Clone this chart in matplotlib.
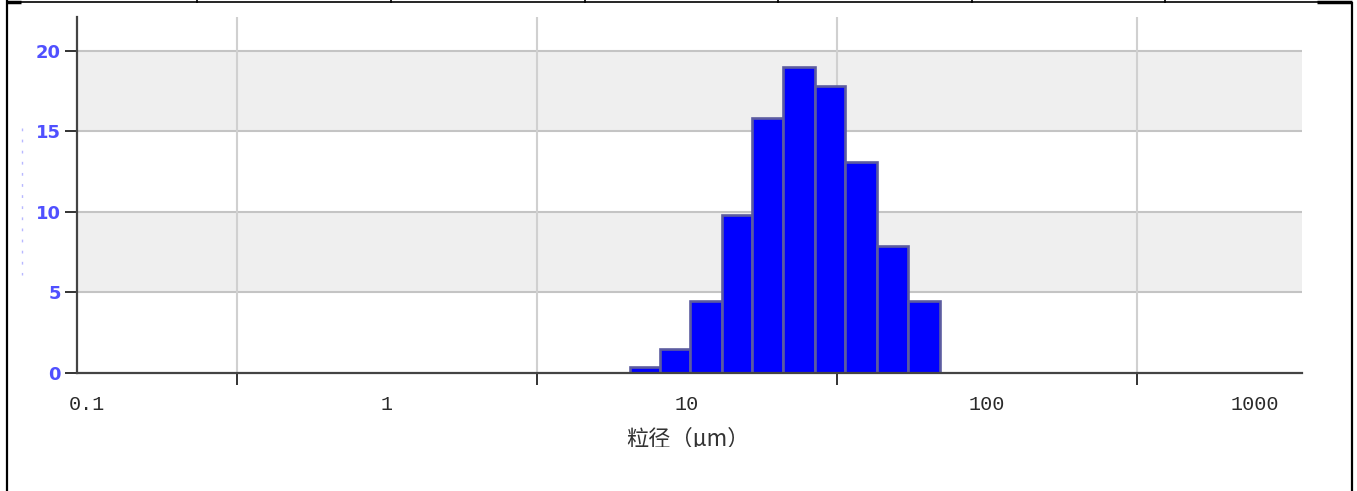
import numpy as np
import matplotlib
matplotlib.use("Agg")
import matplotlib.pyplot as plt
from matplotlib.lines import Line2D
from matplotlib.patches import Rectangle
from matplotlib.transforms import ScaledTranslation

plt.rcParams['font.family'] = ['Noto Sans CJK SC', 'DejaVu Sans']

# ---- data ----
bin_edges = [6.46, 8.13, 10.2, 13.1, 16.5, 20.9, 26.7, 33.6, 43.0, 54.5, 69.7]
volume_pct = [0.4, 1.5, 4.5, 9.8, 15.8, 19.0, 17.8, 13.1, 7.9, 4.5]
x_label_values = [0.1, 1, 10, 100, 1000]
x_label_texts = ["0.1", "1", "10", "100", "1000"]
x_grid_values = [0.316, 3.16, 31.6, 316]
y_ticks = [0, 5, 10, 15, 20]
x_title = "粒径（μm）"

W, H = 1357, 491
fig = plt.figure(figsize=(W / 100, H / 100), dpi=100)
ax = fig.add_axes([77 / W, 1 - 373 / H, (1302 - 77) / W, (373 - 17) / H])

ax.set_xscale('log')
ax.set_xlim(10 ** (-1 - 10 / 300), 10 ** (-1 + (1302 - 87) / 300))
ax.set_ylim(0, 22.1)

# background bands
for lo, hi in [(5, 10), (15, 20)]:
    ax.axhspan(lo, hi, color='#efefef', zorder=0, lw=0)
# gridlines
for yv in y_ticks[1:]:
    ax.axhline(yv, color='#c4c4c4', lw=1.5, zorder=1)
for xv in x_grid_values:
    ax.axvline(xv, color='#d0d0d0', lw=1.5, zorder=1)

# bars
edges = np.array(bin_edges)
ax.bar(edges[:-1], volume_pct, width=np.diff(edges), align='edge',
       color='#0000ff', edgecolor='#5c5ca0', linewidth=1.9, zorder=3)

# spines
for s in ['top', 'right']:
    ax.spines[s].set_visible(False)
for s in ['left', 'bottom']:
    ax.spines[s].set_color('#444444')
    ax.spines[s].set_linewidth(1.6)
    ax.spines[s].set_zorder(4)

# y ticks
ax.set_yticks(y_ticks)
ax.set_yticklabels([str(v) for v in y_ticks])
ax.tick_params(axis='y', length=8.6, width=1.4, color='#333333', pad=3.0,
               labelsize=13, labelcolor='#5050ff')
for t in ax.get_yticklabels():
    t.set_family(['DejaVu Sans'])
    t.set_weight('bold')

# x ticks: labels at decades (no marks), marks at half-decades
ax.set_xticks(x_label_values)
ax.set_xticklabels(x_label_texts)
ax.set_xticks(x_grid_values, minor=True)
ax.xaxis.set_minor_formatter(plt.NullFormatter())
ax.tick_params(axis='x', which='major', length=0, pad=15.5, labelsize=14.5,
               labelcolor='#2a2a2a')
ax.tick_params(axis='x', which='minor', length=8.6, width=1.4, color='#333333')
labels = ax.get_xticklabels()
for t in labels:
    t.set_family(['Liberation Mono'])
labels[-1].set_transform(labels[-1].get_transform() +
                         ScaledTranslation(-32 / 100, 0, fig.dpi_scale_trans))

# x axis title (clipped at bottom as in the reference)
txt = fig.text(688 / W, 1 - 439 / H, x_title, ha='center', va='center',
               fontsize=16, color='#333333')
clip = Rectangle((0, 1 - 447 / H), 1, 1, transform=fig.transFigure)
txt.set_clip_path(clip)
txt.set_clip_on(True)

# faint y-axis title trace
fig.add_artist(Line2D([22 / W, 22 / W], [1 - 128 / H, 1 - 275 / H],
                      transform=fig.transFigure, color='#b8b8ff', lw=1,
                      ls=(0, (2, 6))))

# page/table border
def fline(x0, y0, x1, y1, lw):
    fig.add_artist(Line2D([x0 / W, x1 / W], [1 - y0 / H, 1 - y1 / H],
                          transform=fig.transFigure, color='black', lw=lw,
                          solid_capstyle='butt'))

fline(7, 0, 7, H, 1.6)
fline(1352, 2, 1352, H, 1.6)
fline(7, 1.5, 1352, 1.5, 1.2)
fline(7, 2, 21, 2, 2.5)
fline(1317, 2, 1352, 2, 2.5)
for xs in [197, 391, 585, 778, 972, 1165]:
    fline(xs, 0, xs, 3, 1.2)

fig.savefig('out.png', dpi=100)
